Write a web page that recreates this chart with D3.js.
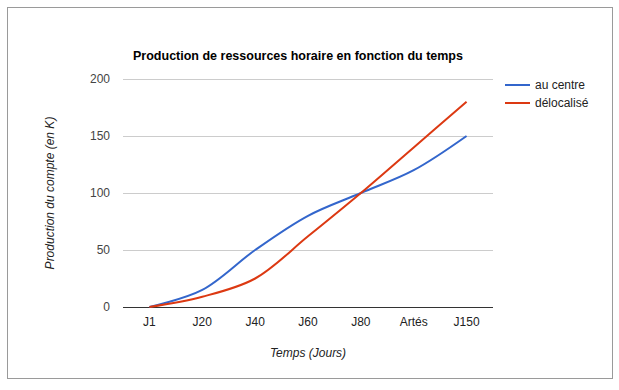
<!DOCTYPE html>
<html>
<head>
<meta charset="utf-8">
<script src="https://cdn.jsdelivr.net/npm/d3@7"></script>
<style>
  body { margin: 0; background: #fff; }
  svg { display: block; font-family: Arial, "Liberation Sans", sans-serif; }
</style>
</head>
<body>
<script>
const categories = ['J1', 'J20', 'J40', 'J60', 'J80', 'Artés', 'J150']
const auCentre = [0, 15, 50, 80, 100, 120, 150]
const delocalise = [0, 9, 25, 62, 100, 140, 180]
const yTicks = [0, 50, 100, 150, 200]
const seriesNames = ['au centre', 'délocalisé']
const colors = ['#3366cc', '#dc3912']

const width = 619
const height = 390
const area = { left: 123, right: 493, top: 79, bottom: 307 }

const svg = d3.select('body').append('svg')
    .attr('width', width)
    .attr('height', height)

svg.append('rect')
    .attr('x', 7.5).attr('y', 7.5)
    .attr('width', 605).attr('height', 371)
    .attr('fill', '#fff')
    .attr('stroke', '#9a9a9a')

const x = d3.scaleBand().domain(categories).range([area.left, area.right])
const y = d3.scaleLinear().domain([0, 200]).range([area.bottom, area.top])

// gridlines
svg.append('g')
    .selectAll('line')
    .data(yTicks)
    .enter()
    .append('line')
    .attr('x1', area.left).attr('x2', area.right)
    .attr('y1', d => Math.round(y(d)) + 0.5)
    .attr('y2', d => Math.round(y(d)) + 0.5)
    .attr('stroke', d => d === 0 ? '#333' : '#ccc')

// y tick labels
svg.append('g')
    .selectAll('text')
    .data(yTicks)
    .enter()
    .append('text')
    .attr('x', area.left - 13)
    .attr('y', d => y(d))
    .attr('dy', '0.35em')
    .attr('text-anchor', 'end')
    .attr('font-size', 12)
    .attr('fill', '#444')
    .text(d => d)

// x tick labels
svg.append('g')
    .selectAll('text')
    .data(categories)
    .enter()
    .append('text')
    .attr('x', d => x(d) + x.bandwidth() / 2)
    .attr('y', 322)
    .attr('dy', '0.35em')
    .attr('text-anchor', 'middle')
    .attr('font-size', 12)
    .attr('fill', '#222')
    .text(d => d)

const line = d3.line()
    .x((d, i) => x(categories[i]) + x.bandwidth() / 2)
    .y(d => y(d))
    .curve(d3.curveCatmullRom.alpha(0.5))

;[auCentre, delocalise].forEach(function(values, k) {
    svg.append('path')
        .datum(values)
        .attr('d', line)
        .attr('fill', 'none')
        .attr('stroke', colors[k])
        .attr('stroke-width', 2)
})

// title
svg.append('text')
    .attr('x', 298).attr('y', 60)
    .attr('text-anchor', 'middle')
    .attr('font-size', 12.5)
    .attr('font-weight', 'bold')
    .attr('fill', '#000')
    .text('Production de ressources horaire en fonction du temps')

// axis titles
svg.append('text')
    .attr('x', 308).attr('y', 353)
    .attr('dy', '0.35em')
    .attr('text-anchor', 'middle')
    .attr('font-size', 12)
    .attr('font-style', 'italic')
    .attr('fill', '#222')
    .text('Temps (Jours)')

svg.append('text')
    .attr('transform', 'translate(50,193) rotate(-90)')
    .attr('dy', '0.35em')
    .attr('text-anchor', 'middle')
    .attr('font-size', 12)
    .attr('font-style', 'italic')
    .attr('fill', '#222')
    .text('Production du compte (en K)')

// legend
const legend = svg.append('g')
    .selectAll('g')
    .data(seriesNames)
    .enter()
    .append('g')
    .attr('transform', (d, i) => 'translate(505,' + (85 + i * 18) + ')')

legend.append('line')
    .attr('x1', 0).attr('x2', 25)
    .attr('stroke', (d, i) => colors[i])
    .attr('stroke-width', 2)

legend.append('text')
    .attr('x', 30)
    .attr('dy', '0.35em')
    .attr('font-size', 12)
    .attr('fill', '#222')
    .text(d => d)
</script>
</body>
</html>
